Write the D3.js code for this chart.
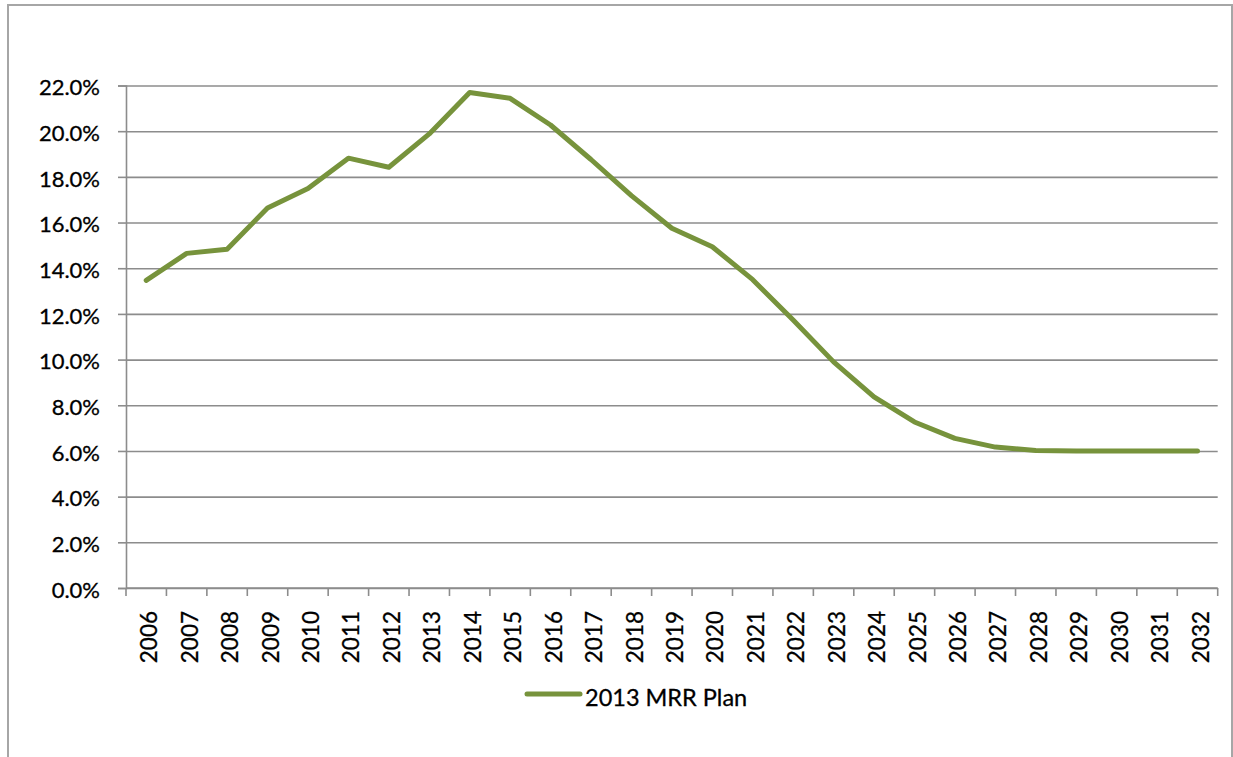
<!DOCTYPE html>
<html>
<head>
<meta charset="utf-8">
<script src="https://cdn.jsdelivr.net/npm/d3@7"></script>
<style>
  html, body { margin: 0; padding: 0; background: #fff; }
  svg { display: block; }
  text { font-family: Lato, "Open Sans", sans-serif; fill: #000; stroke: #000; stroke-width: 0.3px; }
</style>
</head>
<body>
<svg id="chart" width="1233" height="757"></svg>
<script>
const years = ["2006","2007","2008","2009","2010","2011","2012","2013","2014","2015","2016","2017","2018","2019","2020","2021","2022","2023","2024","2025","2026","2027","2028","2029","2030","2031","2032"];
const mrrPlan = [13.47,14.65,14.83,16.64,17.49,18.82,18.42,19.88,21.69,21.44,20.27,18.76,17.18,15.75,14.94,13.5,11.73,9.9,8.37,7.27,6.55,6.17,6.02,6.0,6.0,6.0,6.0];
const yTicks = [0,2,4,6,8,10,12,14,16,18,20,22];
const seriesName = "2013 MRR Plan";

const svg = d3.select("#chart");
const plotLeft = 126, plotRight = 1217.7, plotTop = 85.5, plotBottom = 588;
const lineColor = "#77933c";
const gridColor = "#8c8c8c";

// outer border
svg.append("rect")
  .attr("x", 8).attr("y", 5).attr("width", 1224).attr("height", 780)
  .attr("fill", "none").attr("stroke", "#a6a6a6").attr("stroke-width", 2);

const x = d3.scaleBand().domain(years).range([plotLeft, plotRight]).paddingInner(0).paddingOuter(0);
const y = d3.scaleLinear().domain([0, 22]).range([plotBottom, plotTop]);

// gridlines
svg.append("g")
  .attr("transform", `translate(${plotLeft},0)`)
  .call(d3.axisLeft(y).tickValues(yTicks).tickSize(-(plotRight - plotLeft)).tickFormat(""))
  .call(g => g.select(".domain").remove())
  .call(g => g.selectAll("line").attr("stroke", gridColor).attr("stroke-width", 1.6));

// y axis
svg.append("g")
  .attr("transform", `translate(${plotLeft},0)`)
  .call(d3.axisLeft(y).tickValues(yTicks).tickSize(8).tickPadding(18).tickFormat(d => d.toFixed(1) + "%"))
  .call(g => g.select(".domain").attr("stroke", gridColor).attr("stroke-width", 1.6))
  .call(g => g.selectAll("line").attr("stroke", gridColor).attr("stroke-width", 1.6))
  .call(g => g.selectAll("text").attr("font-size", 22).attr("font-family", "Lato, sans-serif").attr("fill", "#000").attr("dy", "0.42em"));

// x axis line
svg.append("g")
  .attr("transform", `translate(0,${plotBottom})`)
  .call(d3.axisBottom(x).tickSize(0).tickFormat(""))
  .call(g => g.select(".domain").attr("stroke", gridColor).attr("stroke-width", 1.6).attr("d", `M${plotLeft},0H${plotRight}`));

// x tick marks at category boundaries
const bounds = years.map(d => x(d)).concat([x.range()[1]]);
svg.append("g").selectAll("line").data(bounds).join("line")
  .attr("x1", d => d).attr("x2", d => d)
  .attr("y1", plotBottom).attr("y2", plotBottom + 8)
  .attr("stroke", gridColor).attr("stroke-width", 1.6);

// x labels rotated
svg.append("g").selectAll("text").data(years).join("text")
  .attr("transform", d => `translate(${x(d) + x.bandwidth() / 2 + 3},611) rotate(-90)`)
  .attr("text-anchor", "end")
  .attr("dy", "0.36em")
  .attr("font-size", 22.5)
  .text(d => d);

// series line
const line = d3.line()
  .x((d, i) => x(years[i]) + x.bandwidth() / 2)
  .y(d => y(d));
svg.append("path")
  .datum(mrrPlan)
  .attr("d", line)
  .attr("fill", "none")
  .attr("stroke", lineColor)
  .attr("stroke-width", 5)
  .attr("stroke-linejoin", "round")
  .attr("stroke-linecap", "round");

// legend
const lg = svg.append("g");
lg.append("line")
  .attr("x1", 527).attr("x2", 580).attr("y1", 694).attr("y2", 694)
  .attr("stroke", lineColor).attr("stroke-width", 5).attr("stroke-linecap", "round");
lg.append("text")
  .attr("x", 585).attr("y", 706)
  .attr("font-size", 23.5)
  .text(seriesName);
</script>
</body>
</html>
